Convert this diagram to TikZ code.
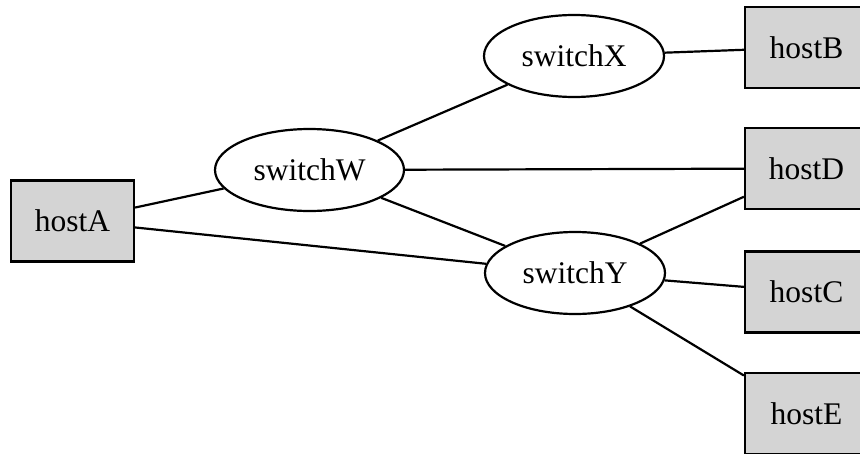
\documentclass[tikz,border=0pt]{standalone}
\usepackage{fontspec}
\setmainfont{Liberation Serif}
\usetikzlibrary{shapes.geometric}
\tikzset{
  host/.style   = {rectangle, draw, fill=black!17, minimum width=123pt, minimum height=81pt, inner sep=0pt},
  switch/.style = {ellipse, draw, minimum width=180pt, minimum height=82pt, inner sep=0pt},
  link/.style   = {draw},
}

\begin{document}
\begin{tikzpicture}
  [
    x                 = 1pt,
    y                 = -1pt,
    line width        = 2.2pt,
    every node/.style = {font=\fontsize{31.5}{36}\selectfont}
  ]
  \clip (0,0) rectangle (860,453);
  \fill[white] (0,0) rectangle (860,453);
  % hosts
  \node [host] (hostA) at (72.5,221)   {hostA};
  \node [host] (hostB) at (806.5,47.5)  {hostB};
  \node [host] (hostD) at (806.5,168.5) {hostD};
  \node [host] (hostC) at (806.5,292)   {hostC};
  \node [host] (hostE) at (806.5,413.5) {hostE};
  % switches
  \node [switch, minimum width=189pt] (switchW) at (309.5,170) {switchW};
  \node [switch] (switchX) at (574,56)  {switchX};
  \node [switch] (switchY) at (575,273) {switchY};
  % links
  \path [link] (hostA) -- (switchW);
  \path [link] (hostA) -- (switchY);
  \path [link] (switchW) -- (switchX);
  \path [link] (switchW) -- (hostD);
  \path [link] (switchW) -- (switchY);
  \path [link] (switchX) -- (hostB);
  \path [link] (switchY) -- (hostD);
  \path [link] (switchY) -- (hostC);
  \path [link] (switchY) -- (hostE);
\end{tikzpicture}
\end{document}
